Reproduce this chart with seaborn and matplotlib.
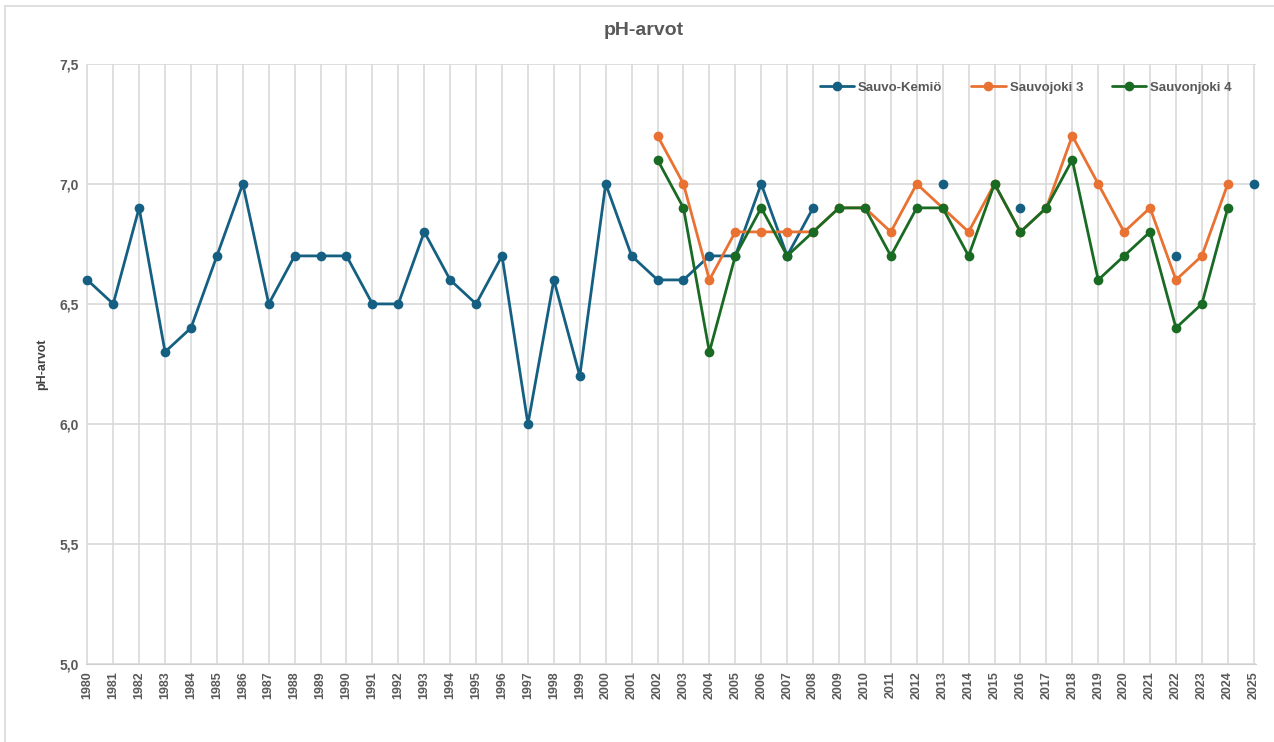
import numpy as np
import pandas as pd
import matplotlib
matplotlib.use("Agg")
import matplotlib.pyplot as plt
from matplotlib.lines import Line2D
from matplotlib.ticker import FuncFormatter
import seaborn as sns

years = list(range(1980, 2026))
nan = np.nan
sauvo_kemio = [6.6, 6.5, 6.9, 6.3, 6.4, 6.7, 7.0, 6.5, 6.7, 6.7,
               6.7, 6.5, 6.5, 6.8, 6.6, 6.5, 6.7, 6.0, 6.6, 6.2,
               7.0, 6.7, 6.6, 6.6, 6.7, 6.7, 7.0, 6.7, 6.9, nan,
               nan, nan, nan, 7.0, nan, nan, 6.9, nan, nan, nan,
               nan, nan, 6.7, nan, nan, 7.0]
sauvojoki_3 = [nan] * 22 + [7.2, 7.0, 6.6, 6.8, 6.8, 6.8, 6.8, 6.9,
                            6.9, 6.8, 7.0, 6.9, 6.8, 7.0, 6.8, 6.9,
                            7.2, 7.0, 6.8, 6.9, 6.6, 6.7, 7.0, nan]
sauvonjoki_4 = [nan] * 22 + [7.1, 6.9, 6.3, 6.7, 6.9, 6.7, 6.8, 6.9,
                             6.9, 6.7, 6.9, 6.9, 6.7, 7.0, 6.8, 6.9,
                             7.1, 6.6, 6.7, 6.8, 6.4, 6.5, 6.9, nan]
series_names = ["Sauvo-Kemiö", "Sauvojoki 3", "Sauvonjoki 4"]
colors = ["#156082", "#E97132", "#196B24"]

# long table, each unbroken run gets its own segment id so gaps stay gaps
rows = []
seg = 0
for name, vals in zip(series_names, [sauvo_kemio, sauvojoki_3, sauvonjoki_4]):
    prev_ok = False
    for y, v in zip(years, vals):
        if np.isnan(v):
            prev_ok = False
            continue
        if not prev_ok:
            seg += 1
        rows.append({"vuosi": y, "pH": v, "sarja": name, "seg": seg})
        prev_ok = True
df = pd.DataFrame(rows)

sns.set_style("white")
plt.rcParams["font.family"] = ["Liberation Sans", "DejaVu Sans"]
txt = "#595959"

fig = plt.figure(figsize=(12.74, 7.42), dpi=100)
ax = fig.add_axes([0.0675, 0.105, 0.918, 0.809])

sns.lineplot(data=df, x="vuosi", y="pH", hue="sarja", hue_order=series_names,
             palette=colors, units="seg", estimator=None, sort=True,
             marker="o", markersize=7, markeredgewidth=0, linewidth=2,
             ax=ax)
for ln in ax.lines:
    ln.set_clip_on(False)

ax.set_xlim(1979.95, 2025.07)
ax.set_ylim(5.0, 7.5)
ax.set_xticks(years)
ax.set_xticklabels([str(y) for y in years], rotation=90, fontsize=9,
                   fontweight="bold", color=txt)
ax.set_yticks(np.arange(5.0, 7.51, 0.5))
ax.yaxis.set_major_formatter(FuncFormatter(lambda v, p: f"{v:.1f}".replace(".", ",")))
for lab in ax.get_yticklabels():
    lab.set_fontsize(10)
    lab.set_fontweight("bold")
    lab.set_color(txt)
ax.tick_params(axis="both", length=0, pad=5)
ax.grid(True, color="#d9d9d9", linewidth=1.2)
ax.set_axisbelow(True)
for s in ["top", "right", "left"]:
    ax.spines[s].set_visible(False)
ax.spines["bottom"].set_color("#d0d0d0")
ax.set_xlabel("")
ax.set_ylabel("pH-arvot", fontsize=9, fontweight="bold", color="#404040", labelpad=8)

fig.suptitle("pH-arvot", x=0.505, y=0.97, fontsize=14, fontweight="bold", color=txt)

leg = ax.legend(loc="upper right", bbox_to_anchor=(0.99, 0.99), ncol=3,
                frameon=False, fontsize=9.5, columnspacing=2.2, handlelength=2.6,
                handletextpad=0.3)
for t in leg.get_texts():
    t.set_fontweight("bold")
    t.set_color(txt)

# chart box: only top and left edges fall inside the picture
fig.add_artist(Line2D([0.004, 1.0], [0.992, 0.992], transform=fig.transFigure,
                      color="#d9d9d9", linewidth=1.2))
fig.add_artist(Line2D([0.004, 0.004], [0.0, 0.992], transform=fig.transFigure,
                      color="#d9d9d9", linewidth=1.2))

fig.savefig("out.png", dpi=100)
